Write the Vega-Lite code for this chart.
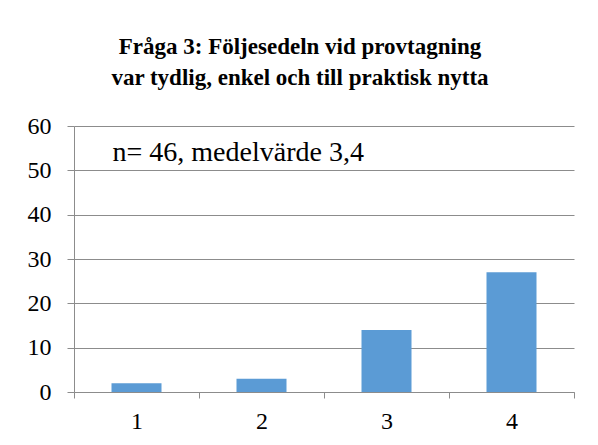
{
  "$schema": "https://vega.github.io/schema/vega-lite/v6.json",
  "width": 500,
  "height": 266,
  "autosize": {"type": "none"},
  "padding": {"left": 74, "top": 126, "right": 24, "bottom": 53},
  "background": "white",
  "config": {
    "view": {"stroke": null},
    "font": "Liberation Serif, Times New Roman, serif"
  },
  "title": {
    "text": ["Fråga 3: Följesedeln vid provtagning", "var tydlig, enkel och till praktisk nytta"],
    "font": "Liberation Serif, Times New Roman, serif",
    "fontSize": 23,
    "fontWeight": "bold",
    "color": "black",
    "anchor": "middle",
    "baseline": "alphabetic",
    "lineHeight": 31,
    "dx": -24,
    "offset": 6
  },
  "datasets": {
    "bars": [
      {"svar": "1", "antal": 2},
      {"svar": "2", "antal": 3},
      {"svar": "3", "antal": 14},
      {"svar": "4", "antal": 27}
    ],
    "note": [{"label": "n= 46, medelvärde 3,4"}]
  },
  "layer": [
    {
      "data": {"name": "bars"},
      "mark": {"type": "bar", "color": "#5B9BD5", "width": {"band": 0.4}},
      "encoding": {
        "x": {
          "field": "svar",
          "type": "nominal",
          "sort": null,
          "scale": {"paddingInner": 0, "paddingOuter": 0},
          "axis": {
            "title": null,
            "labelAngle": 0,
            "labelFont": "Liberation Serif, Times New Roman, serif",
            "labelFontSize": 24,
            "labelColor": "black",
            "labelPadding": 11,
            "tickBand": "extent",
            "tickSize": 6,
            "tickColor": "#8c8c8c",
            "domainColor": "#8c8c8c",
            "domainWidth": 1,
            "grid": false
          }
        },
        "y": {
          "field": "antal",
          "type": "quantitative",
          "scale": {"domain": [0, 60], "nice": false},
          "axis": {
            "title": null,
            "values": [0, 10, 20, 30, 40, 50, 60],
            "labelFont": "Liberation Serif, Times New Roman, serif",
            "labelFontSize": 24,
            "labelColor": "black",
            "labelPadding": 16,
            "tickSize": 7,
            "tickColor": "#8c8c8c",
            "domainColor": "#8c8c8c",
            "grid": true,
            "gridColor": "#8c8c8c",
            "gridWidth": 1
          }
        }
      }
    },
    {
      "data": {"name": "note"},
      "mark": {
        "type": "text",
        "font": "Liberation Serif, Times New Roman, serif",
        "fontSize": 28,
        "color": "black",
        "align": "left",
        "baseline": "alphabetic",
        "dx": -24
      },
      "encoding": {
        "x": {"datum": "1", "type": "nominal"},
        "y": {"datum": 52, "type": "quantitative"},
        "text": {"field": "label"}
      }
    }
  ]
}
